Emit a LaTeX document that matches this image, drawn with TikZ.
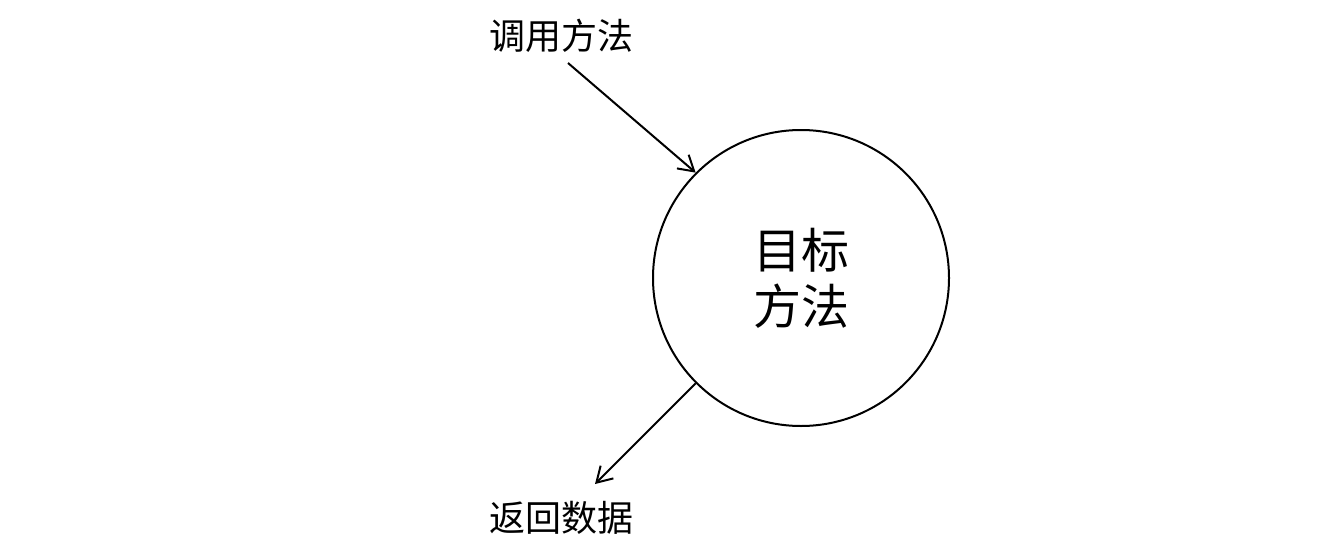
\documentclass[tikz,border=0pt]{standalone}
\usepackage{fontspec}
\setmainfont{Noto Sans CJK SC}
\usetikzlibrary{arrows.meta}
\begin{document}
\begin{tikzpicture}[x=1pt,y=-1pt,
  conn/.style={line width=2pt,-{Straight Barb[length=15pt,width=18pt,line width=2pt]}},
  lbl/.style={font=\fontsize{36}{40}\selectfont,inner sep=0pt,anchor=center},
  target/.style={circle,draw,line width=2pt,minimum size=296pt,inner sep=0pt,align=center,font=\fontsize{48}{56}\selectfont}]
\useasboundingbox (0,0) rectangle (1344,543);
\node[target] (c) at (801,278) {目标\\方法};
\node[lbl] (t) at (561,36) {调用方法};
\node[lbl] (b) at (561,518) {返回数据};
\coordinate (s1) at (568,63);
\coordinate (e2) at (595,484);
\draw[conn] (s1) -- (c.135);
\draw[conn] (c.225) -- (e2);
\end{tikzpicture}
\end{document}
